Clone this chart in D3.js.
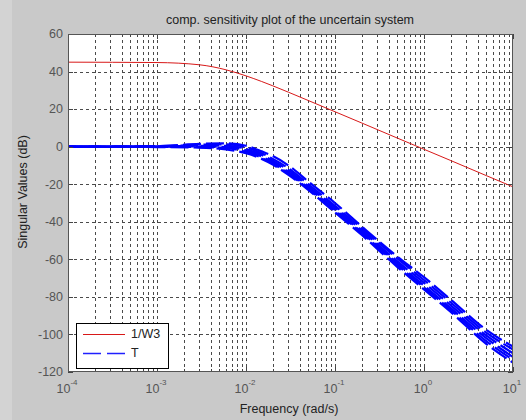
<!DOCTYPE html>
<html>
<head>
<meta charset="utf-8">
<script src="https://cdn.jsdelivr.net/npm/d3@7"></script>
<style>
  body { margin: 0; background: #c9c9c9; }
  svg { display: block; font-family: "Liberation Sans", Arial, sans-serif; }
</style>
</head>
<body>
<svg id="chart" width="526" height="420"></svg>
<script>
// Frequency grid (rad/s) shared by every curve
const freq = [1e-4, 1e-3, 3e-3, 6e-3, 1e-2, 1.5e-2, 2e-2, 3e-2, 5e-2, 0.1, 0.2, 0.5, 1, 2, 5, 10];

// Inverse weighting 1/W3 (dB)
const invW3 = [45.0, 44.8, 43.6, 40.9, 37.7, 34.7, 32.4, 29.0, 24.6, 18.6, 12.6, 4.6, -1.4, -7.4, -15.4, -21.4];

// Complementary sensitivity T of sampled uncertain plants (dB)
const T1 = [0, 0.3, 1.5, 1.8, 0.5, -2.5, -5.0, -10.0, -18.5, -30.0, -42.5, -58.5, -69.5, -81.5, -97.5, -106.5];
const T2 = [0, 0.2, 1.0, 1.2, -0.3, -3.5, -6.5, -11.5, -20.0, -31.5, -43.5, -59.5, -71.0, -83.0, -99.0, -108.0];
const T3 = [0, 0.1, 0.5, 0.5, -1.2, -4.5, -7.5, -12.5, -21.0, -32.5, -44.5, -61.0, -72.5, -84.5, -100.5, -110.0];
const T4 = [0, 0.0, 0.2, -0.2, -2.0, -5.3, -8.3, -13.5, -22.0, -33.5, -45.5, -62.0, -74.0, -86.0, -102.0, -112.0];
const T5 = [0, -0.1, -0.2, -0.8, -2.8, -6.0, -9.0, -14.3, -22.5, -34.3, -46.0, -63.0, -75.0, -87.0, -103.5, -113.5];
const T6 = [0, -0.2, -0.5, -1.5, -3.5, -6.5, -9.5, -15.0, -23.0, -35.0, -47.0, -64.0, -76.0, -88.0, -105.0, -115.0];
const Tsamples = [T1, T2, T3, T4, T5, T6];

// Axis ticks
const yTicks = [-120, -100, -80, -60, -40, -20, 0, 20, 40, 60];
const xDecades = [-4, -3, -2, -1, 0, 1];

const titleText = "comp. sensitivity plot of the uncertain system";
const xLabel = "Frequency (rad/s)";
const yLabel = "Singular Values (dB)";
const legendLabels = ["1/W3", "T"];

const svg = d3.select("#chart");
const figH = 420;
const pLeft = 68, pRight = 513, pTop = 34, pBottom = 372;

// faint lighter strip along the left edge of the figure
svg.append("rect").attr("x", 0).attr("y", 0).attr("width", 12).attr("height", figH).attr("fill", "#d3d3d3");

const x = d3.scaleLog().domain([1e-4, 10]).range([pLeft, pRight]);
const y = d3.scaleLinear().domain([-120, 60]).range([pBottom, pTop]);

// plot background
svg.append("rect").attr("x", pLeft).attr("y", pTop)
  .attr("width", pRight - pLeft).attr("height", pBottom - pTop).attr("fill", "#ffffff");

const allX = x.ticks();
const majorX = xDecades.map(d => Math.pow(10, d));
const minorX = allX.filter(v => !majorX.some(m => Math.abs(m - v) / m < 1e-9));

// grid
const grid = svg.append("g").attr("stroke", "#4a4a4a").attr("stroke-width", 1)
  .attr("stroke-dasharray", "3,3").attr("fill", "none");
grid.selectAll("line.vx").data(allX.filter(v => v > 1.0001e-4 && v < 9.999)).join("line")
  .attr("class", "vx")
  .attr("x1", d => Math.round(x(d)) + 0.5).attr("x2", d => Math.round(x(d)) + 0.5)
  .attr("y1", pTop).attr("y2", pBottom);
grid.selectAll("line.hy").data(yTicks.filter(v => v > -120 && v < 60)).join("line")
  .attr("class", "hy")
  .attr("x1", pLeft).attr("x2", pRight)
  .attr("y1", d => Math.round(y(d)) + 0.5).attr("y2", d => Math.round(y(d)) + 0.5);

// curves
const clip = svg.append("clipPath").attr("id", "plotclip");
clip.append("rect").attr("x", pLeft).attr("y", pTop).attr("width", pRight - pLeft).attr("height", pBottom - pTop);
const plot = svg.append("g").attr("clip-path", "url(#plotclip)");

const line = d3.line()
  .x((d, i) => x(freq[i]))
  .y(d => y(d))
  .curve(d3.curveMonotoneX);

plot.append("path").datum(invW3)
  .attr("d", line).attr("fill", "none")
  .attr("stroke", "#d81818").attr("stroke-width", 1);

plot.selectAll("path.t").data(Tsamples).join("path")
  .attr("class", "t")
  .attr("d", line).attr("fill", "none")
  .attr("stroke", "#0000ff").attr("stroke-width", 2.2)
  .attr("stroke-dasharray", "18,5")
  .attr("stroke-dashoffset", (d, i) => i * 2.5);

// axes box and inward ticks
const ticks = svg.append("g").attr("stroke", "#444").attr("stroke-width", 1);
function xTick(v, len) {
  const px = Math.round(x(v)) + 0.5;
  ticks.append("line").attr("x1", px).attr("x2", px).attr("y1", pBottom).attr("y2", pBottom - len);
  ticks.append("line").attr("x1", px).attr("x2", px).attr("y1", pTop).attr("y2", pTop + len);
}
majorX.forEach(v => xTick(v, 5));
minorX.forEach(v => xTick(v, 3));
yTicks.forEach(v => {
  const py = Math.round(y(v)) + 0.5;
  ticks.append("line").attr("x1", pLeft).attr("x2", pLeft + 5).attr("y1", py).attr("y2", py);
  ticks.append("line").attr("x1", pRight).attr("x2", pRight - 5).attr("y1", py).attr("y2", py);
});
svg.append("rect").attr("x", pLeft + 0.5).attr("y", pTop + 0.5)
  .attr("width", pRight - pLeft - 1).attr("height", pBottom - pTop - 1)
  .attr("fill", "none").attr("stroke", "#555").attr("stroke-width", 1);

// y tick labels
svg.append("g").selectAll("text").data(yTicks).join("text")
  .attr("x", pLeft - 5).attr("y", d => y(d))
  .attr("dy", "0.35em").attr("text-anchor", "end")
  .attr("font-size", 12.5).attr("fill", "#555")
  .text(d => d);

// x tick labels: 10 with superscript exponent
const xl = svg.append("g").selectAll("text").data(xDecades).join("text")
  .attr("x", d => x(Math.pow(10, d)) - 1).attr("y", 393)
  .attr("text-anchor", "middle").attr("fill", "#555");
xl.append("tspan").attr("font-size", 12.5).text("10");
xl.append("tspan").attr("font-size", 8).attr("dy", -8).text(d => d);

// titles
svg.append("text").attr("x", 290).attr("y", 24).attr("text-anchor", "middle")
  .attr("font-size", 12.5).attr("fill", "#222").text(titleText);
svg.append("text").attr("x", 289).attr("y", 413).attr("text-anchor", "middle")
  .attr("font-size", 12.5).attr("fill", "#222").text(xLabel);
svg.append("text").attr("transform", "translate(27,192) rotate(-90)")
  .attr("text-anchor", "middle").attr("font-size", 12.5).attr("fill", "#222").text(yLabel);

// legend
const lg = svg.append("g");
lg.append("rect").attr("x", 76.5).attr("y", 323.5).attr("width", 92).attr("height", 45)
  .attr("fill", "#fff").attr("stroke", "#000").attr("stroke-width", 1);
const legendStyles = [
  { color: "#d81818", dash: null, width: 1 },
  { color: "#2020ff", dash: "18,6", width: 1.5 }
];
legendLabels.forEach((lab, i) => {
  const ly = 334 + i * 19;
  lg.append("line").attr("x1", 83).attr("x2", 125).attr("y1", ly + 0.5).attr("y2", ly + 0.5)
    .attr("stroke", legendStyles[i].color).attr("stroke-width", legendStyles[i].width)
    .attr("stroke-dasharray", legendStyles[i].dash);
  lg.append("text").attr("x", 131).attr("y", ly).attr("dy", "0.35em")
    .attr("font-size", 12.5).attr("fill", "#222").text(lab);
});
</script>
</body>
</html>
